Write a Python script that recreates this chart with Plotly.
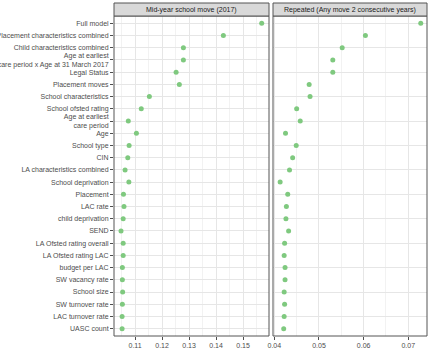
import plotly.graph_objects as go

features = [
    "Full model",
    "Placement characteristics combined",
    "Child characteristics combined",
    "Age at earliest<br>care period x Age at 31 March 2017",
    "Legal Status",
    "Placement moves",
    "School characteristics",
    "School ofsted rating",
    "Age at earliest<br>care period",
    "Age",
    "School type",
    "CIN",
    "LA characteristics combined",
    "School deprivation",
    "Placement",
    "LAC rate",
    "child deprivation",
    "SEND",
    "LA Ofsted rating overall",
    "LA Ofsted rating LAC",
    "budget per LAC",
    "SW vacancy rate",
    "School size",
    "SW turnover rate",
    "LAC turnover rate",
    "UASC count",
]

midyear = [0.1569, 0.1427, 0.1279, 0.1279, 0.1252, 0.1264, 0.1153, 0.1123,
           0.1075, 0.1105, 0.1078, 0.1073, 0.1063, 0.1077, 0.1057, 0.1059,
           0.1056, 0.1048, 0.1056, 0.1056, 0.1053, 0.1053, 0.1054, 0.1053,
           0.1052, 0.1052]

repeated = [0.0728, 0.0604, 0.0552, 0.0531, 0.0531, 0.0478, 0.0480, 0.0450,
            0.0458, 0.0425, 0.0449, 0.0441, 0.0434, 0.0413, 0.0430, 0.0427,
            0.0426, 0.0432, 0.0423, 0.0422, 0.0424, 0.0424, 0.0422, 0.0423,
            0.0422, 0.0421]

panel_titles = ["Mid-year school move (2017)", "Repeated (Any move 2 consecutive years)"]
left_ticks = [0.11, 0.12, 0.13, 0.14, 0.15]
right_ticks = [0.04, 0.05, 0.06, 0.07]

W, H = 433, 351
ml, mr, mt, mb = 114, 6, 16, 15
pw = W - ml - mr
ph = H - mt - mb
left_dom = [0, (269 - ml) / pw]
right_dom = [(273 - ml) / pw, 1]

pt_color = "#7fc97f"
grid_major = "#e6e6e6"
grid_minor = "#f2f2f2"
border = "#555555"
tick_col = "#4d4d4d"
font = "Liberation Sans, Arial, sans-serif"

fig = go.Figure()
fig.add_trace(go.Scatter(x=midyear, y=features, mode="markers",
                         marker=dict(color=pt_color, size=5), xaxis="x", yaxis="y",
                         showlegend=False, cliponaxis=False))
fig.add_trace(go.Scatter(x=repeated, y=features, mode="markers",
                         marker=dict(color=pt_color, size=5), xaxis="x2", yaxis="y2",
                         showlegend=False, cliponaxis=False))

n = len(features)
yrange = [n - 1 + 0.6, -0.6]

common_x = dict(showline=False, zeroline=False, ticks="outside", ticklen=3,
                tickcolor=tick_col, tickfont=dict(size=7, color=tick_col, family=font),
                showgrid=True, gridcolor=grid_major, gridwidth=1, automargin=False,
                minor=dict(showgrid=True, gridcolor=grid_minor, gridwidth=1, ticks=""))

fig.update_layout(
    width=W, height=H,
    margin=dict(l=ml, r=mr, t=mt, b=mb),
    paper_bgcolor="white", plot_bgcolor="white",
    font=dict(family=font, color=tick_col),
    xaxis=dict(domain=left_dom, range=[0.1022, 0.1596], tickvals=left_ticks,
               ticktext=[f"{v:.2f}" for v in left_ticks], anchor="y",
               minor_dtick=0.005, **common_x),
    xaxis2=dict(domain=right_dom, range=[0.0397, 0.0742], tickvals=right_ticks,
                ticktext=[f"{v:.2f}" for v in right_ticks], anchor="y2",
                minor_dtick=0.005, **common_x),
    yaxis=dict(domain=[0, 1], range=yrange, type="category", categoryorder="array",
               categoryarray=features, anchor="x", ticks="outside", ticklen=3,
               tickcolor=tick_col, tickfont=dict(size=7, color=tick_col, family=font),
               showgrid=True, gridcolor=grid_major, showline=False, zeroline=False,
               automargin=False),
    yaxis2=dict(domain=[0, 1], range=yrange, type="category", categoryorder="array",
                categoryarray=features, anchor="x2", showticklabels=False, ticks="",
                showgrid=True, gridcolor=grid_major, showline=False, zeroline=False,
                matches="y", automargin=False),
)

strip_h = 13 / ph
for dom, title in zip([left_dom, right_dom], panel_titles):
    fig.add_shape(type="rect", xref="paper", yref="paper", x0=dom[0], x1=dom[1],
                  y0=0, y1=1, line=dict(color=border, width=1), fillcolor="rgba(0,0,0,0)",
                  layer="above")
    fig.add_shape(type="rect", xref="paper", yref="paper", x0=dom[0], x1=dom[1],
                  y0=1, y1=1 + strip_h, line=dict(color=border, width=1), fillcolor="#d9d9d9")
    fig.add_annotation(xref="paper", yref="paper", x=(dom[0] + dom[1]) / 2,
                       y=1 + strip_h / 2, text=title, showarrow=False,
                       font=dict(size=7, color="#1a1a1a", family=font),
                       xanchor="center", yanchor="middle")

fig.write_html("out.html")
